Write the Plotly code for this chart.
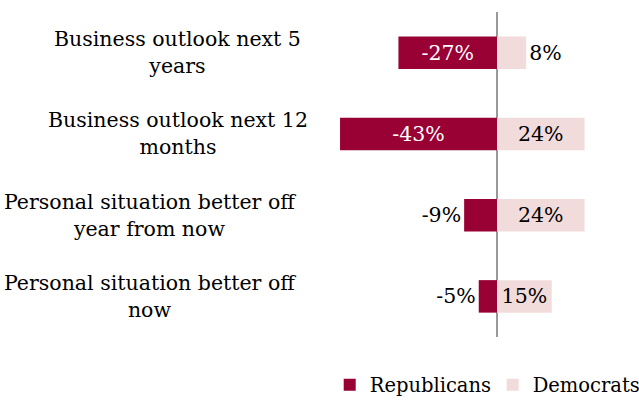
import plotly.graph_objects as go

categories = ["Business outlook next 5<br>years",
              "Business outlook next 12<br>months",
              "Personal situation better off<br>year from now",
              "Personal situation better off<br>now"]
republicans = [-27, -43, -9, -5]
democrats = [8, 24, 24, 15]

FONT = "DejaVu Serif"
FS = 20.5
LFS = 19.5
rep_color = "#990033"
dem_color = "#F2DCDB"

rep_pos = ["inside" if abs(v) >= 15 else "outside" for v in republicans]
dem_pos = ["inside" if abs(v) >= 12 else "outside" for v in democrats]

fig = go.Figure()
fig.add_trace(go.Bar(
    y=categories, x=republicans, orientation="h", name="Republicans",
    marker=dict(color=rep_color, line=dict(width=0)),
    text=[f"{v}%" for v in republicans], textposition=rep_pos,
    insidetextanchor="middle",
    insidetextfont=dict(color="white", size=FS, family=FONT),
    outsidetextfont=dict(color="black", size=FS, family=FONT),
    cliponaxis=False, width=0.4,
))
fig.add_trace(go.Bar(
    y=categories, x=democrats, orientation="h", name="Democrats",
    marker=dict(color=dem_color, line=dict(width=0)),
    text=[f"{v}%" for v in democrats], textposition=dem_pos,
    insidetextanchor="middle",
    insidetextfont=dict(color="black", size=FS, family=FONT),
    outsidetextfont=dict(color="black", size=FS, family=FONT),
    cliponaxis=False, width=0.4,
))

label_x = [-0.507, -0.507, -0.6, -0.6]
for cat, lx in zip(categories, label_x):
    fig.add_annotation(x=lx, xref="paper", y=cat, yref="y", text=cat,
                       showarrow=False, xanchor="center", yanchor="middle",
                       align="center", font=dict(family=FONT, size=FS, color="black"))

fig.update_layout(
    width=639, height=402,
    margin=dict(l=330, r=9, t=12, b=65, autoexpand=False),
    barmode="relative",
    plot_bgcolor="white", paper_bgcolor="white",
    font=dict(family=FONT, size=FS, color="black"),
    uniformtext=dict(minsize=FS, mode="show"),
    xaxis=dict(range=[-45.75, 36.44], showgrid=False, showticklabels=False,
               zeroline=True, zerolinecolor="#999999", zerolinewidth=2, ticks=""),
    yaxis=dict(autorange="reversed", showticklabels=False, showgrid=False,
               zeroline=False, ticks=""),
    legend=dict(orientation="h", x=-0.001, xanchor="left",
                y=-0.148, yanchor="middle",
                entrywidth=118, entrywidthmode="pixels",
                font=dict(family=FONT, size=LFS), traceorder="normal",
                itemwidth=30),
    showlegend=True,
)
fig.write_html("out.html")
